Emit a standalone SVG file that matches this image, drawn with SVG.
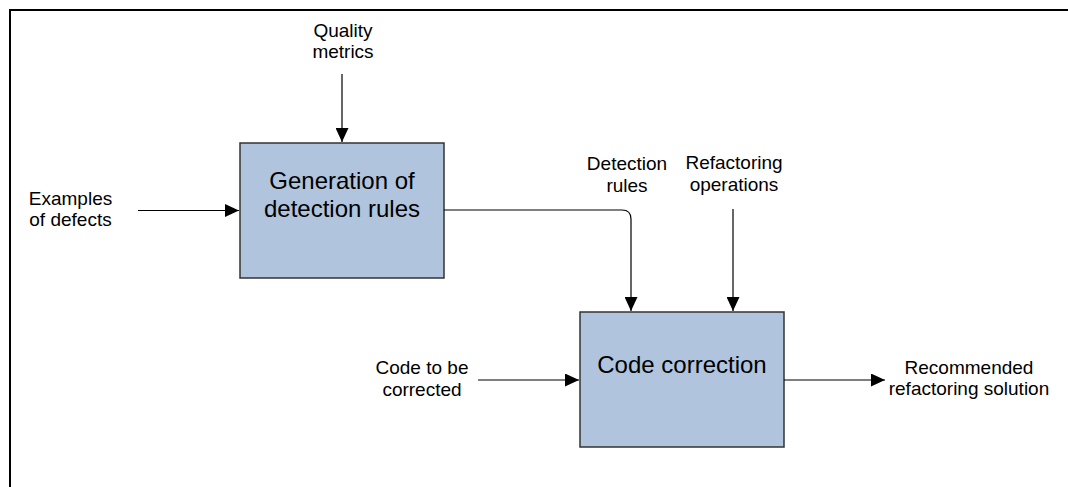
<svg xmlns="http://www.w3.org/2000/svg" width="1068" height="487" viewBox="0 0 1068 487">
<defs>
<style>
.lbl{font-family:"Liberation Sans",Arial,sans-serif;font-size:19px;fill:#000;text-anchor:middle}
.big{font-family:"Liberation Sans",Arial,sans-serif;font-size:24px;fill:#000;text-anchor:middle}
.box{fill:#b0c4de;stroke:#333;stroke-width:1.5}
.edge{fill:none;stroke:#000;stroke-width:1.2;marker-end:url(#ah)}
</style>
<marker id="ah" viewBox="0 0 14 13" refX="14" refY="6.5" markerWidth="14" markerHeight="13" markerUnits="userSpaceOnUse" orient="auto">
<path d="M0,0 L14,6.5 L0,13 Z" fill="#000"/>
</marker>
</defs>
<rect x="0" y="0" width="1068" height="487" fill="#fff"/>
<rect id="frame" x="10" y="10" width="1100" height="500" fill="none" stroke="#000" stroke-width="2"/>
<g id="gen">
<rect class="box" x="240" y="143" width="204" height="135"/>
<text class="big" x="342" y="189">Generation of</text>
<text class="big" x="342" y="216.5">detection rules</text>
</g>
<g id="corr">
<rect class="box" x="580" y="312" width="204" height="135"/>
<text class="big" x="682" y="372.5">Code correction</text>
</g>
<g id="lbl-quality">
<text class="lbl" x="343" y="37">Quality</text>
<text class="lbl" x="343" y="58">metrics</text>
</g>
<g id="lbl-examples">
<text class="lbl" x="70.5" y="205">Examples</text>
<text class="lbl" x="70.5" y="226">of defects</text>
</g>
<g id="lbl-detection">
<text class="lbl" x="627" y="170">Detection</text>
<text class="lbl" x="627" y="192">rules</text>
</g>
<g id="lbl-refactoring">
<text class="lbl" x="734" y="169">Refactoring</text>
<text class="lbl" x="734" y="191">operations</text>
</g>
<g id="lbl-code">
<text class="lbl" x="422" y="374">Code to be</text>
<text class="lbl" x="422" y="396">corrected</text>
</g>
<g id="lbl-recommended">
<text class="lbl" x="969" y="374">Recommended</text>
<text class="lbl" x="969" y="395">refactoring solution</text>
</g>
<g id="connectors">
<path class="edge" d="M342,74 L342,142"/>
<path class="edge" d="M138,210.5 L239,210.5"/>
<path class="edge" d="M444,210 L622,210 Q631,210 631,219 L631,311"/>
<path class="edge" d="M733,209 L733,311"/>
<path class="edge" d="M478,380 L579,380"/>
<path class="edge" d="M784,380 L885,380"/>
</g>
</svg>
